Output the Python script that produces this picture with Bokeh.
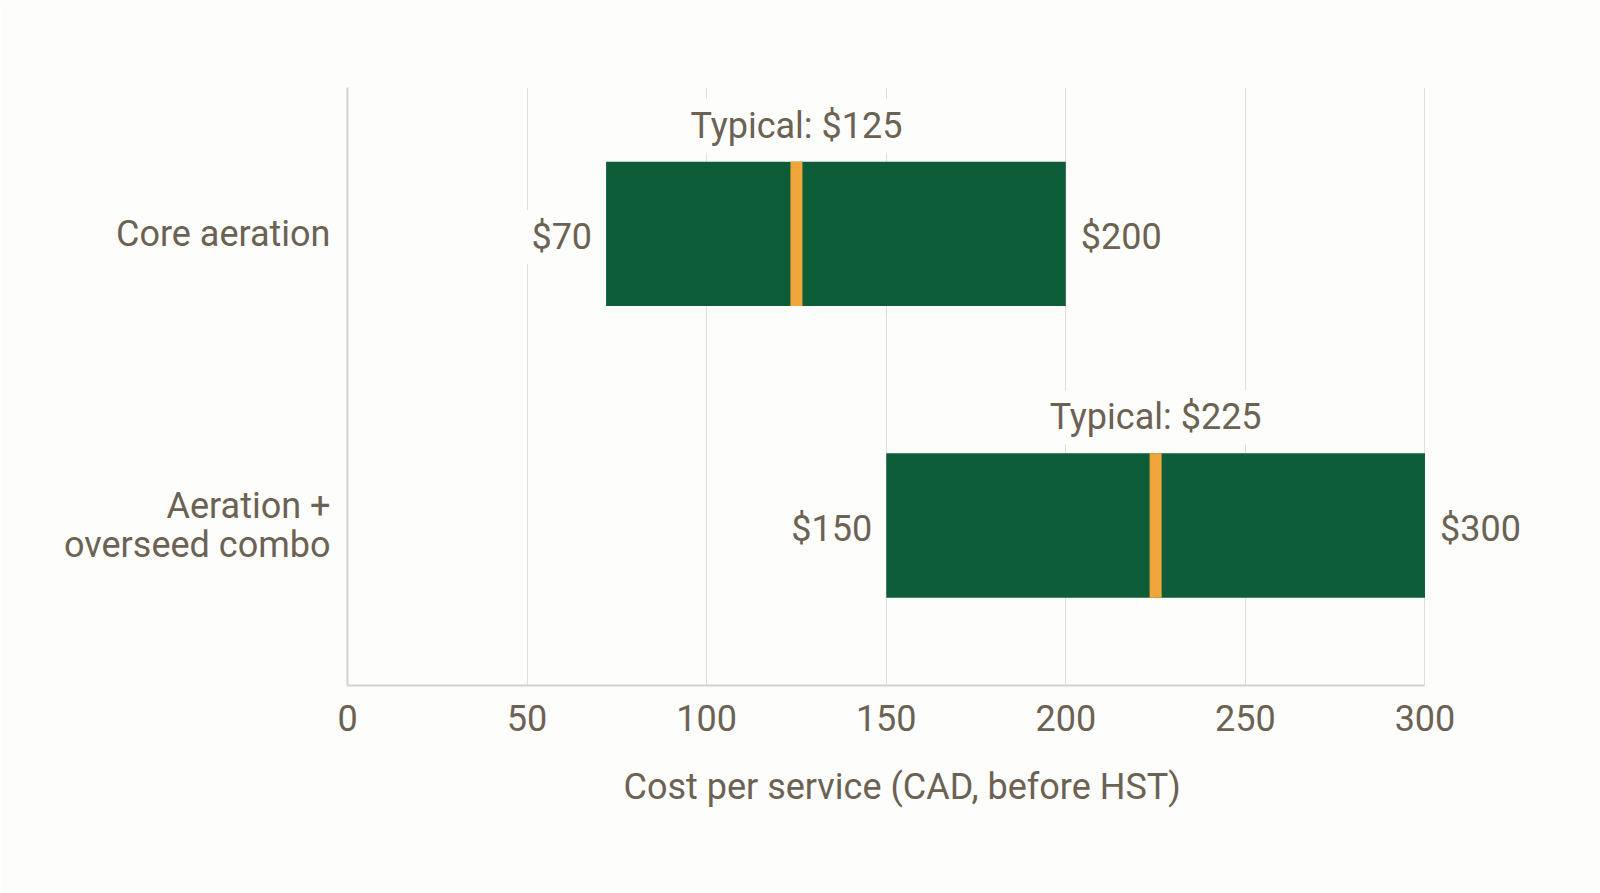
from bokeh.plotting import figure
from bokeh.models import Range1d, FixedTicker, Label, Title
from bokeh.embed import file_html
from bokeh.resources import INLINE

# ---- data ----
services = ["Core aeration", "Aeration +\noverseed combo"]
bar_start = [72, 150]          # drawn bar start (as seen)
low_price = [70, 150]          # labelled low price
high_price = [200, 300]
typical_price = [125, 225]
x_ticks = [0, 50, 100, 150, 200, 250, 300]
x_title = "Cost per service (CAD, before HST)"

BG = "#fdfdfb"
GREEN = "#0d5e38"
ORANGE = "#f0a63a"
TXT = "#6b6254"
GRID = "#e2dfda"
AXIS = "#d6d2cb"
FONT = "Roboto"
FS = "36px"
BAR_H = 0.495

idx = list(range(len(services)))

p = figure(width=1600, height=893, output_backend="svg", toolbar_location=None,
           x_range=Range1d(0, 343.3), y_range=Range1d(1.5485, -0.502),
           min_border_left=347, min_border_right=20, min_border_top=87,
           min_border_bottom=208)
p.outline_line_color = None
p.background_fill_color = BG
p.border_fill_color = BG

# x axis
p.xaxis.ticker = FixedTicker(ticks=x_ticks)
p.xaxis.bounds = (x_ticks[0], x_ticks[-1])
p.xaxis.major_label_text_font = FONT
p.xaxis.major_label_text_font_size = FS
p.xaxis.major_label_text_color = TXT
p.xaxis.major_label_standoff = 13
p.xaxis.major_tick_line_color = None
p.xaxis.minor_tick_line_color = None
p.xaxis.axis_line_color = AXIS
p.xaxis.axis_line_width = 2

# axis title (left-anchored so that it sits under the 0..300 scale)
p.add_layout(Title(text=x_title, align="left", offset=276, standoff=60,
                   text_font=FONT, text_font_size=FS, text_font_style="normal",
                   text_color=TXT), "below")

# y axis
p.yaxis.ticker = FixedTicker(ticks=idx)
p.yaxis.major_label_overrides = {i: s for i, s in zip(idx, services)}
p.yaxis.major_label_text_font = FONT
p.yaxis.major_label_text_font_size = FS
p.yaxis.major_label_text_color = TXT
p.yaxis.major_label_text_line_height = 0.93
p.yaxis.major_label_standoff = 11
p.yaxis.axis_line_color = AXIS
p.yaxis.axis_line_width = 2
p.yaxis.major_tick_line_color = None
p.yaxis.minor_tick_line_color = None

p.xgrid.ticker = FixedTicker(ticks=x_ticks)
p.xgrid.grid_line_color = GRID
p.xgrid.grid_line_width = 1
p.ygrid.grid_line_color = None

def add_label(x, y, text, align, baseline, xo=0, yo=0):
    p.add_layout(Label(x=x, y=y, text=text, text_align=align, text_baseline=baseline,
                       x_offset=xo, y_offset=yo, text_font=FONT, text_font_size=FS,
                       text_color=TXT, background_fill_color=BG, padding=6))

for i in idx:
    add_label(bar_start[i], i, f"${low_price[i]}", "right", "middle", xo=-8, yo=-3)
    add_label(high_price[i], i, f"${high_price[i]}", "left", "middle", xo=9, yo=-3)
    add_label(typical_price[i], i - BAR_H / 2, f"Typical: ${typical_price[i]}",
              "center", "alphabetic", yo=36)

p.hbar(y=idx, left=bar_start, right=high_price, height=BAR_H,
       fill_color=GREEN, line_color=None)
p.rect(x=typical_price, y=idx, width=12, width_units="screen", height=BAR_H,
       fill_color=ORANGE, line_color=None)

open("out.html", "w").write(file_html(p, INLINE))
